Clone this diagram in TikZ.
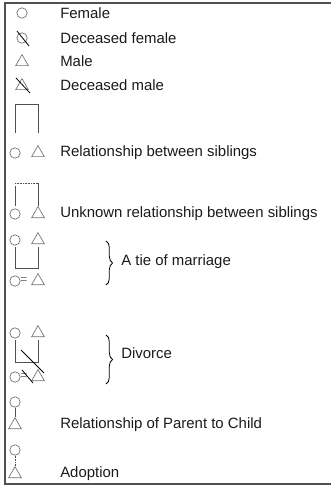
\documentclass[tikz,border=0pt]{standalone}
\usepackage{fontspec}
\setmainfont{Liberation Sans}
\usetikzlibrary{shapes.geometric,decorations.pathreplacing}
\definecolor{symcol}{HTML}{707070}
\definecolor{linecol}{HTML}{505050}
\definecolor{txtcol}{HTML}{1A1A1A}
\begin{document}
\begin{tikzpicture}[x=0.75pt,y=-0.75pt,
  fem/.style={circle,draw=symcol,line width=0.5pt,minimum size=7.8pt,inner sep=0pt},
  mal/.style={regular polygon,regular polygon sides=3,draw=symcol,line width=0.5pt,minimum size=11pt,inner sep=0pt},
  label/.style={anchor=west,text=txtcol,font=\fontsize{11.2}{13}\selectfont,inner sep=0pt},
  link/.style={draw=linecol,line width=0.6pt},
  dotlink/.style={draw=linecol,line width=0.6pt,dash pattern=on 0.6pt off 0.6pt},
  cross/.style={draw=black,line width=0.6pt},
  bracelink/.style={draw=black,line width=0.6pt,decorate,decoration={brace,amplitude=5pt}}]
\useasboundingbox (0,0) rectangle (331,488);
% outer frame, open to the right
\draw[draw=linecol,line width=0.8pt] (340,3) -- (5,3) -- (5,484) -- (340,484);

% single persons
\node[fem] (f1) at (22,13) {};
\node[label] (t1) at (60,13) {Female};
\node[fem] (f2) at (22,38) {};
\coordinate (c2a) at (17,31); \coordinate (c2b) at (29,46);
\draw[cross] (c2a) -- (c2b);
\node[label] (t2) at (60,38) {Deceased female};
\node[mal] (m1) at (22,62) {};
\node[label] (t3) at (60,61) {Male};
\node[mal] (m2) at (22,86) {};
\coordinate (c4a) at (16,78); \coordinate (c4b) at (30,93);
\draw[cross] (c4a) -- (c4b);
\node[label] (t4) at (60,85) {Deceased male};

% siblings
\node[fem] (s1) at (15,153) {};
\node[mal] (s2) at (38,153) {};
\coordinate (s1top) at (15,133); \coordinate (s2top) at (38,133);
\coordinate (s1up) at (15,104); \coordinate (s2up) at (38,104);
\draw[link] (s1top) -- (s1up) -- (s2up) -- (s2top);
\node[label] (t5) at (60,153) {Relationship between siblings};

% siblings, unknown relationship
\node[fem] (u1) at (15,214) {};
\node[mal] (u2) at (38,214) {};
\coordinate (u1low) at (15,206); \coordinate (u1up) at (15,186);
\coordinate (u2low) at (38,206); \coordinate (u2up) at (38,183);
\coordinate (u1corner) at (15,183);
\draw[link] (u1low) -- (u1up);
\draw[link] (u2low) -- (u2up);
\draw[dotlink] (u1corner) -- (u2up);
\node[label] (t6) at (60,214) {Unknown relationship between siblings};

% marriage
\node[fem] (w1) at (15,240) {};
\node[mal] (w2) at (38,240) {};
\coordinate (w1a) at (15,247); \coordinate (w1b) at (15,268);
\coordinate (w2a) at (38,247); \coordinate (w2b) at (38,268);
\draw[link] (w1a) -- (w1b) -- (w2b) -- (w2a);
\node[fem] (w3) at (15,281) {};
\node[inner sep=0pt,text=symcol,font=\fontsize{9}{11}\selectfont] (weq) at (24,281) {=};
\node[mal] (w4) at (38,281) {};
\coordinate (b1top) at (106,241); \coordinate (b1bot) at (106,285);
\draw[bracelink] (b1top) -- (b1bot);
\node[label] (t7) at (121,262) {A tie of marriage};

% divorce
\node[fem] (d1) at (15,333) {};
\node[mal] (d2) at (38,333) {};
\coordinate (d1a) at (15,340); \coordinate (d1b) at (15,362);
\coordinate (d2a) at (38,340); \coordinate (d2b) at (38,362);
\draw[link] (d1a) -- (d1b) -- (d2b) -- (d2a);
\coordinate (dxa) at (21,350); \coordinate (dxb) at (44,373);
\draw[cross] (dxa) -- (dxb);
\node[fem] (d3) at (15,377) {};
\node[inner sep=0pt,text=symcol,font=\fontsize{9}{11}\selectfont] (deq) at (24,377) {=};
\node[mal] (d4) at (38,377) {};
\coordinate (dya) at (22,370); \coordinate (dyb) at (33,383);
\draw[cross] (dya) -- (dyb);
\coordinate (b2top) at (106,335); \coordinate (b2bot) at (106,384);
\draw[bracelink] (b2top) -- (b2bot);
\node[label] (t8) at (121,353) {Divorce};

% parent and child
\node[fem] (p1) at (15,402) {};
\node[mal] (p2) at (15,425) {};
\draw[link] (p1.south) -- (p2.north);
\node[label] (t9) at (60,425) {Relationship of Parent to Child};

% adoption
\node[fem] (a1) at (15,450) {};
\node[mal] (a2) at (15,474) {};
\draw[dotlink] (a1.south) -- (a2.north);
\node[label] (t10) at (60,474) {Adoption};
\end{tikzpicture}
\end{document}
